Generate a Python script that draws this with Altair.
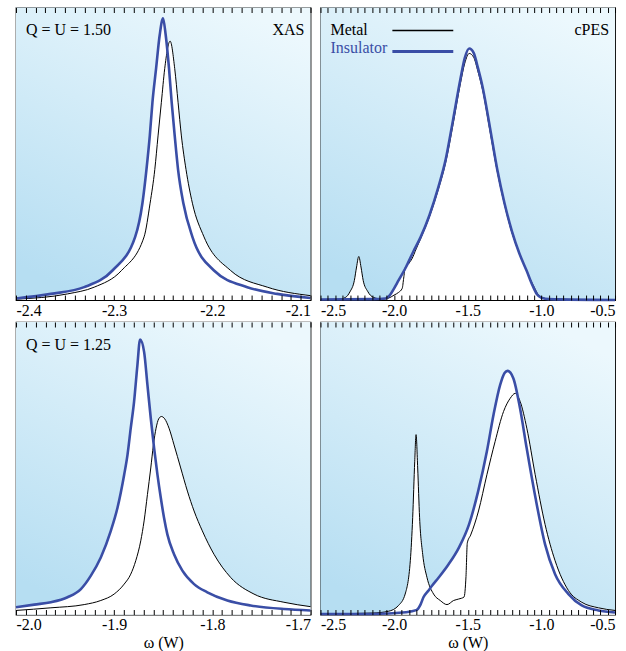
import altair as alt
import pandas as pd

BLUE = "#3a4ea6"
SERIF = "Liberation Serif"
W, H = 295, 293

# ---------------- Panel 1: XAS, Q = U = 1.50 ----------------
xas150_dom = [-2.4, -2.1]
xas150_major = [-2.4, -2.3, -2.2, -2.1]
xas150_metal_x = [-2.40, -2.3475, -2.3203, -2.2925, -2.2695, -2.2634, -2.2586, -2.2553, -2.2519, -2.2485,
                  -2.243, -2.2383, -2.2349, -2.2315, -2.2268, -2.2203, -2.2085, -2.1814, -2.144, -2.10]
xas150_metal_y = [0.003, 0.021, 0.044, 0.101, 0.216, 0.331, 0.446, 0.561, 0.676, 0.791,
                  0.885, 0.791, 0.676, 0.561, 0.446, 0.331, 0.216, 0.101, 0.044, 0.015]
xas150_ins_x = [-2.40, -2.3644, -2.3305, -2.3017, -2.2786, -2.2712, -2.2671, -2.2637, -2.261, -2.2573, -2.2536,
                -2.2502, -2.2475, -2.2441, -2.2414, -2.2383, -2.2349, -2.2295, -2.2203, -2.1983, -2.1644,
                -2.1339, -2.10]
xas150_ins_y = [0.005, 0.021, 0.044, 0.101, 0.216, 0.331, 0.446, 0.561, 0.676, 0.791, 0.906,
                0.963, 0.906, 0.791, 0.676, 0.561, 0.446, 0.331, 0.216, 0.101, 0.044,
                0.021, 0.007]

# ---------------- Panel 2: cPES, Q = U = 1.50 ----------------
pes150_dom = [-2.5, -0.5]
pes150_major = [-2.5, -2.0, -1.5, -1.0, -0.5]
pes150_metal_x = [-2.50, -2.38, -2.33, -2.30, -2.27, -2.255, -2.24, -2.225, -2.21, -2.18, -2.14, -2.08,
                  -2.04, -2.00, -1.97, -1.945, -1.935, -1.925, -1.90, -1.88, -1.85, -1.82, -1.76, -1.70,
                  -1.65, -1.60, -1.55, -1.52, -1.49, -1.46, -1.43, -1.40, -1.35, -1.30, -1.25, -1.20,
                  -1.15, -1.10, -1.07, -1.05, -1.03, -1.00, -0.95, -0.50]
pes150_metal_y = [0.001, 0.002, 0.009, 0.028, 0.067, 0.113, 0.149, 0.113, 0.067, 0.030, 0.009, 0.003,
                  0.006, 0.017, 0.026, 0.040, 0.075, 0.110, 0.125, 0.140, 0.175, 0.210, 0.285, 0.378,
                  0.470, 0.600, 0.740, 0.810, 0.843, 0.830, 0.780, 0.720, 0.580, 0.440, 0.325, 0.230,
                  0.160, 0.100, 0.065, 0.045, 0.025, 0.010, 0.004, 0.0]
pes150_ins_x = [-2.50, -2.15, -2.06, -2.03, -2.00, -1.97, -1.92, -1.87, -1.82, -1.76, -1.70, -1.65,
                -1.60, -1.55, -1.52, -1.49, -1.46, -1.43, -1.40, -1.35, -1.30, -1.25, -1.20, -1.15,
                -1.10, -1.06, -1.03, -1.00, -0.95, -0.50]
pes150_ins_y = [0.002, 0.003, 0.005, 0.016, 0.040, 0.067, 0.112, 0.165, 0.215, 0.290, 0.385, 0.480,
                0.615, 0.755, 0.828, 0.860, 0.845, 0.792, 0.730, 0.592, 0.447, 0.330, 0.235, 0.160,
                0.100, 0.050, 0.020, 0.008, 0.003, 0.0]

# ---------------- Panel 3: XAS, Q = U = 1.25 ----------------
xas125_dom = [-2.0, -1.7]
xas125_major = [-2.0, -1.9, -1.8, -1.7]
xas125_metal_x = [-2.0, -1.9644, -1.9305, -1.9136, -1.90, -1.8898, -1.8831, -1.878, -1.8729, -1.8695,
                  -1.8661, -1.8627, -1.86, -1.8573, -1.8546, -1.8519, -1.8485, -1.8441, -1.839, -1.8322,
                  -1.8254, -1.8186, -1.8102, -1.7983, -1.7814, -1.7576, -1.7271, -1.70]
xas125_metal_y = [0.014, 0.023, 0.034, 0.048, 0.070, 0.104, 0.138, 0.184, 0.252, 0.320,
                  0.410, 0.501, 0.580, 0.637, 0.669, 0.677, 0.669, 0.637, 0.580, 0.501,
                  0.422, 0.354, 0.286, 0.206, 0.127, 0.070, 0.042, 0.027]
xas125_ins_x = [-2.0, -1.9814, -1.9644, -1.9475, -1.9339, -1.9237, -1.9136, -1.9034, -1.8966, -1.8898,
                -1.8864, -1.8831, -1.8797, -1.8763, -1.8736, -1.8695, -1.8661, -1.8627, -1.8593, -1.8559,
                -1.8525, -1.8492, -1.8458, -1.839, -1.8305, -1.8186, -1.8051, -1.7847, -1.761, -1.7271, -1.70]
xas125_ins_y = [0.025, 0.034, 0.042, 0.059, 0.087, 0.133, 0.195, 0.286, 0.365, 0.478,
                0.546, 0.637, 0.728, 0.853, 0.940, 0.898, 0.785, 0.671, 0.569, 0.478,
                0.399, 0.331, 0.274, 0.206, 0.150, 0.104, 0.076, 0.048, 0.031, 0.019, 0.014]

# ---------------- Panel 4: cPES, Q = U = 1.25 ----------------
pes125_dom = [-2.5, -0.5]
pes125_major = [-2.5, -2.0, -1.5, -1.0, -0.5]
pes125_metal_x = [-2.50, -2.15, -2.04, -1.97, -1.925, -1.89, -1.874, -1.86, -1.851, -1.84, -1.827, -1.806,
                  -1.777, -1.732, -1.687, -1.641, -1.596, -1.562, -1.525, -1.512, -1.503, -1.48, -1.427,
                  -1.370, -1.314, -1.257, -1.212, -1.178, -1.144, -1.099, -1.042, -0.975, -0.907, -0.816,
                  -0.726, -0.613, -0.50]
pes125_metal_y = [0.002, 0.005, 0.011, 0.031, 0.070, 0.184, 0.331, 0.524, 0.615, 0.501, 0.331, 0.206,
                  0.127, 0.070, 0.048, 0.034, 0.048, 0.053, 0.060, 0.130, 0.245, 0.272, 0.354,
                  0.478, 0.592, 0.694, 0.739, 0.756, 0.728, 0.637, 0.478, 0.308, 0.184, 0.082,
                  0.042, 0.023, 0.014]
pes125_ins_x = [-2.50, -2.15, -1.92, -1.85, -1.82, -1.80, -1.77, -1.74, -1.70, -1.63, -1.56, -1.49,
                -1.43, -1.37, -1.325, -1.28, -1.25, -1.23, -1.19, -1.145, -1.10, -1.04, -0.975, -0.907,
                -0.816, -0.726, -0.613, -0.50]
pes125_ins_y = [0.002, 0.002, 0.008, 0.015, 0.035, 0.060, 0.080, 0.100, 0.125, 0.172, 0.229, 0.310,
                0.420, 0.558, 0.683, 0.785, 0.826, 0.833, 0.807, 0.705, 0.569, 0.399, 0.240, 0.138,
                0.070, 0.031, 0.014, 0.007]

panel_labels = ["Q = U = 1.50", "Q = U = 1.25"]
panel_kinds = ["XAS", "cPES"]
legend_names = ["Metal", "Insulator"]
x_title = "ω (W)"

GRAD = alt.LinearGradient(
    gradient="linear",
    stops=[alt.GradientStop(color="#b6def2", offset=0),
           alt.GradientStop(color="#ecf8fd", offset=1)],
    x1=0.25, y1=1, x2=0.75, y2=0,
)

LABEL_EXPR = "(datum.value < 0 ? '-' : '') + format(abs(datum.value), '.1f')"


def minor_ticks(dom, step):
    n = int(round((dom[1] - dom[0]) / step))
    return [round(dom[0] + i * step, 4) for i in range(n + 1)]


def panel(dom, majors, step, mx, my, ix, iy, left_txt, right_txt, bottom_row, legend):
    xs = alt.Scale(domain=dom, nice=False, zero=False)
    ys = alt.Scale(domain=[0, 1], nice=False, zero=False)
    ax_kw = dict(values=majors, labelExpr=LABEL_EXPR, ticks=False, domain=False, grid=False,
                 labelFlush=True, labelFont=SERIF, labelFontSize=16, labelPadding=2,
                 labelColor="black", minExtent=20, maxExtent=20)
    if bottom_row:
        ax_kw.update(title=x_title, titleFont=SERIF, titleFontSize=16, titleFontWeight="normal",
                     titleColor="black", titlePadding=0)
    else:
        ax_kw.update(title=None)
    label_axis = alt.Axis(**ax_kw)
    minors = minor_ticks(dom, step)
    tick_kw = dict(values=minors, ticks=True, tickSize=5, tickWidth=1, tickColor="black",
                   labels=False, domain=False, grid=False, title=None, offset=-5,
                   minExtent=0, maxExtent=0, zindex=2)
    bottom_ticks = alt.Axis(orient="bottom", **tick_kw)
    top_ticks = alt.Axis(orient="top", **tick_kw)

    Y = alt.Y("y:Q", scale=ys, axis=None)
    XN = alt.X("x:Q", scale=xs, axis=None)

    frame = pd.DataFrame({"x": [dom[0]], "x2": [dom[1]], "y": [0.0], "y2": [1.0]})
    bg = alt.Chart(frame).mark_rect(fill=GRAD).encode(
        x=alt.X("x:Q", scale=xs, axis=label_axis), x2="x2:Q", y=Y, y2="y2:Q")
    tb = alt.Chart(frame).mark_rect(opacity=0).encode(
        x=alt.X("x:Q", scale=xs, axis=bottom_ticks), x2="x2:Q", y=Y, y2="y2:Q")
    tt = alt.Chart(frame).mark_rect(opacity=0).encode(
        x=alt.X("x:Q", scale=xs, axis=top_ticks), x2="x2:Q", y=Y, y2="y2:Q")

    metal = pd.DataFrame({"x": mx, "y": my})
    ins = pd.DataFrame({"x": ix, "y": iy})
    area_m = alt.Chart(metal).mark_area(color="white", opacity=1, interpolate="monotone").encode(x=XN, y=Y)
    area_i = alt.Chart(ins).mark_area(color="white", opacity=1, interpolate="monotone").encode(x=XN, y=Y)
    line_m = alt.Chart(metal).mark_line(color="black", strokeWidth=1, interpolate="monotone").encode(x=XN, y=Y)
    line_i = alt.Chart(ins).mark_line(color=BLUE, strokeWidth=2.6, interpolate="monotone").encode(x=XN, y=Y)

    layers = [bg, tb, tt, area_m, area_i, line_m, line_i]
    if left_txt:
        layers.append(alt.Chart(pd.DataFrame({"t": [left_txt]})).mark_text(
            align="left", baseline="middle", font=SERIF, fontSize=16, color="black").encode(
            x=alt.value(10), y=alt.value(23), text="t:N"))
    if right_txt:
        layers.append(alt.Chart(pd.DataFrame({"t": [right_txt]})).mark_text(
            align="right", baseline="middle", font=SERIF, fontSize=16, color="black").encode(
            x=alt.value(289), y=alt.value(23), text="t:N"))
    if legend:
        layers.append(alt.Chart(pd.DataFrame({"t": [legend_names[0]]})).mark_text(
            align="left", baseline="middle", font=SERIF, fontSize=16, color="black").encode(
            x=alt.value(10), y=alt.value(23), text="t:N"))
        layers.append(alt.Chart(pd.DataFrame({"t": [legend_names[1]]})).mark_text(
            align="left", baseline="middle", font=SERIF, fontSize=16, color=BLUE).encode(
            x=alt.value(10), y=alt.value(41), text="t:N"))
        layers.append(alt.Chart(pd.DataFrame({"t": [legend_names[0]]})).mark_rule(
            color="black", strokeWidth=1.5).encode(
            x=alt.value(72), x2=alt.value(133), y=alt.value(23)))
        layers.append(alt.Chart(pd.DataFrame({"t": [legend_names[1]]})).mark_rule(
            color=BLUE, strokeWidth=3).encode(
            x=alt.value(72), x2=alt.value(133), y=alt.value(44)))
    return alt.layer(*layers).resolve_axis(x="independent").properties(width=W, height=H)


p1 = panel(xas150_dom, xas150_major, 0.01, xas150_metal_x, xas150_metal_y, xas150_ins_x, xas150_ins_y,
           panel_labels[0], panel_kinds[0], False, False)
p2 = panel(pes150_dom, pes150_major, 0.05, pes150_metal_x, pes150_metal_y, pes150_ins_x, pes150_ins_y,
           None, panel_kinds[1], False, True)
p3 = panel(xas125_dom, xas125_major, 0.01, xas125_metal_x, xas125_metal_y, xas125_ins_x, xas125_ins_y,
           panel_labels[1], None, True, False)
p4 = panel(pes125_dom, pes125_major, 0.05, pes125_metal_x, pes125_metal_y, pes125_ins_x, pes125_ins_y,
           None, None, True, False)

chart = alt.concat(
    p1, p2, p3, p4, columns=2, spacing={"row": 22, "column": 10}, bounds="flush",
).properties(
    padding={"left": 10, "top": 5, "right": 5, "bottom": 0},
    background="white",
).configure_view(stroke="black", strokeWidth=1.2)

chart.save("out.html", embed_options={"renderer": "svg", "actions": False})
